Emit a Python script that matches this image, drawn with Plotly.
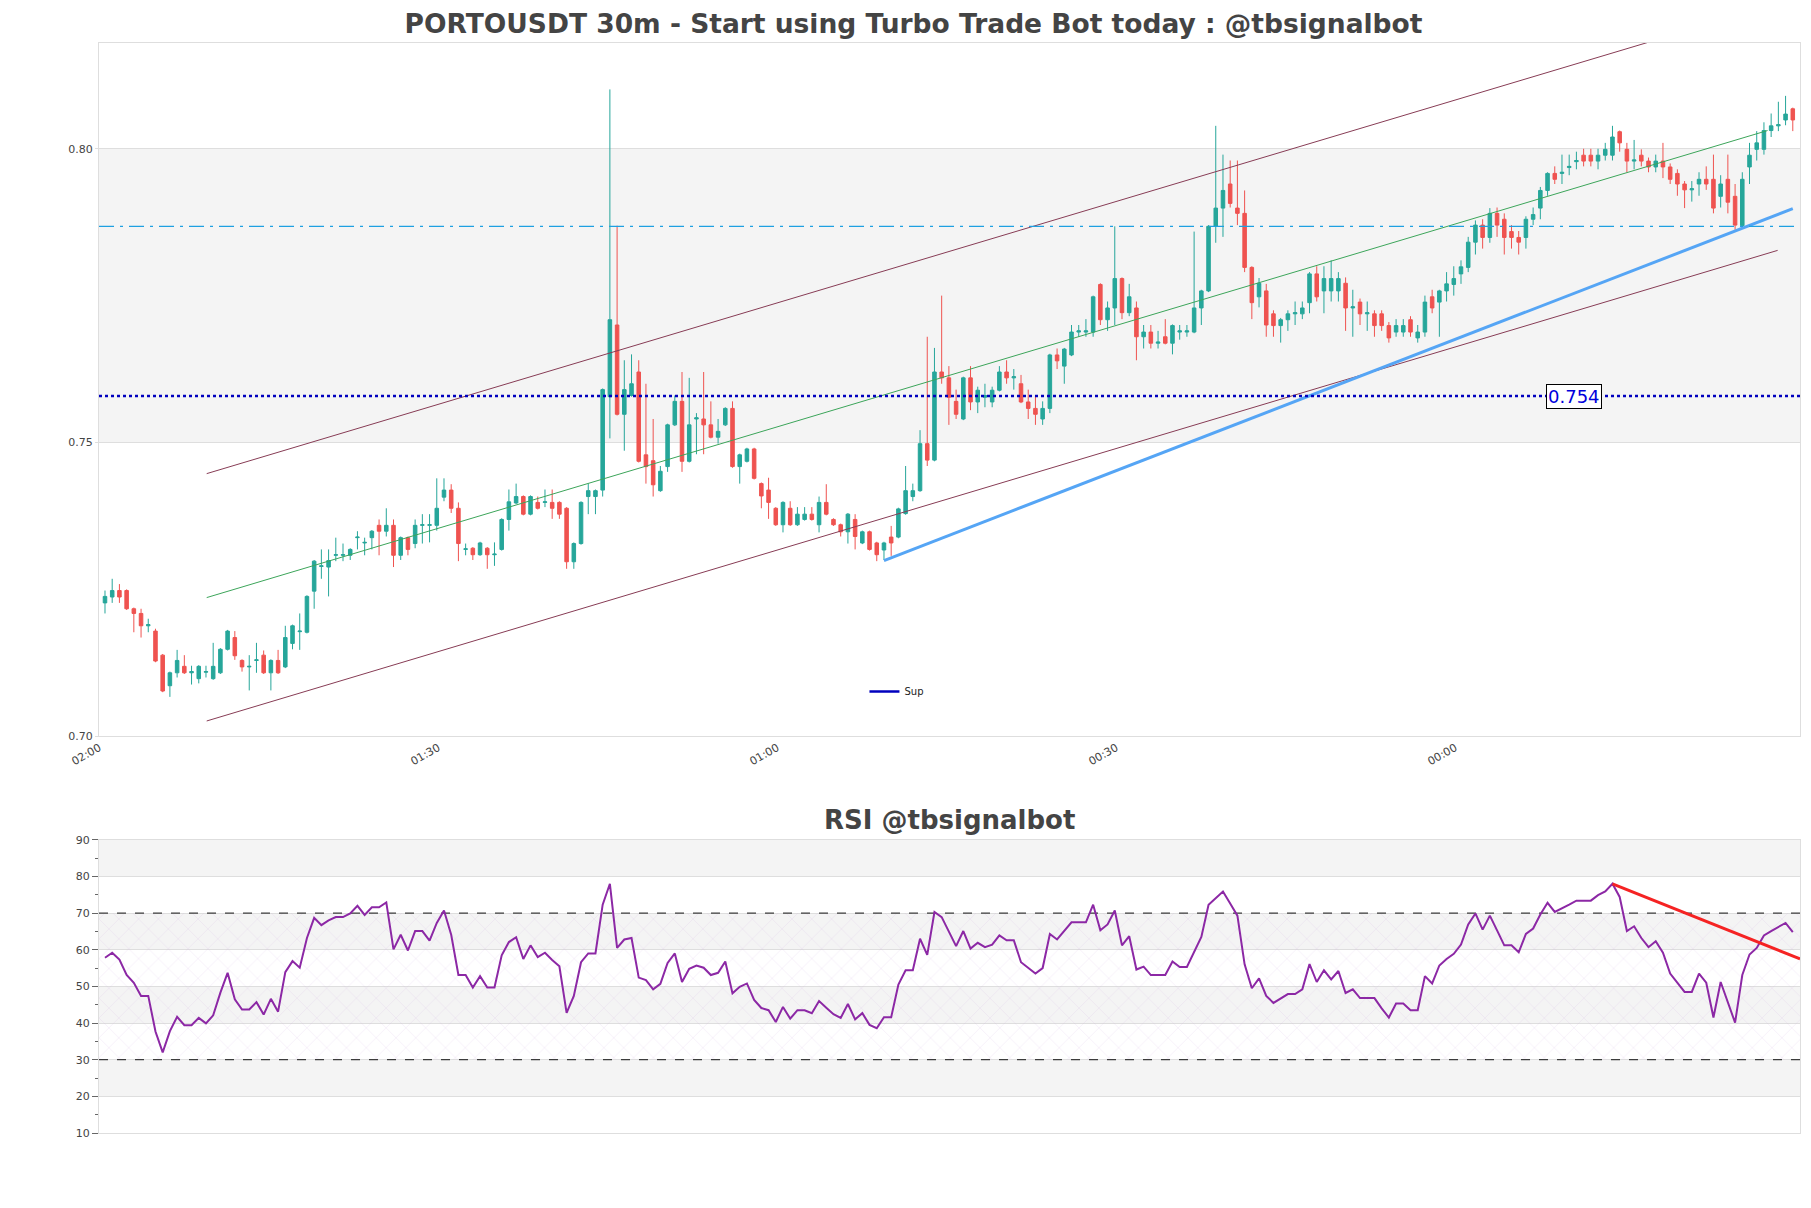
import plotly.graph_objects as go

# ---- data --------------------------------------------------------------------
opens = [
    .7227, .7237, .7248, .7248, .7217, .7209, .7188, .7179, .7138, .7086,
    .7108, .7119, .7108, .7098, .7109, .7098, .7108, .7148, .7168, .7129,
    .7118, .7129, .7138, .7108, .7129, .7118, .7158, .7178, .7177, .7247,
    .7289, .7288, .7308, .7308, .7308, .7338, .7329, .7338, .7359, .7349,
    .7359, .7308, .7338, .7328, .7359, .7359, .7359, .7407, .7419, .7388,
    .7318, .7320, .7309, .7320, .7309, .7318, .7369, .7397, .7408, .7378,
    .7398, .7398, .7398, .7398, .7388, .7297, .7328, .7408, .7408, .7419,
    .7578, .7700, .7548, .7580, .7620, .7479, .7469, .7418, .7459, .7530,
    .7570, .7468, .7540, .7540, .7530, .7509, .7530, .7558, .7459, .7468,
    .7489, .7430, .7419, .7388, .7360, .7388, .7360, .7369, .7378, .7360,
    .7398, .7369, .7360, .7348, .7369, .7329, .7348, .7329, .7317, .7339,
    .7339, .7379, .7408, .7418, .7498, .7470, .7620, .7610, .7570, .7540,
    .7610, .7569, .7577, .7569, .7589, .7620, .7610, .7600, .7569, .7558,
    .7540, .7558, .7649, .7630, .7649, .7688, .7688, .7688, .7769, .7709,
    .7729, .7779, .7721, .7729, .7680, .7688, .7669, .7680, .7669, .7688,
    .7688, .7688, .7729, .7758, .7868, .7899, .7940, .7899, .7890, .7798,
    .7748, .7758, .7719, .7699, .7709, .7719, .7719, .7738, .7787, .7758,
    .7758, .7758, .7771, .7729, .7739, .7719, .7719, .7719, .7699, .7688,
    .7688, .7709, .7678, .7688, .7748, .7739, .7758, .7769, .7787, .7798,
    .7841, .7870, .7849, .7890, .7880, .7859, .7849, .7849, .7880, .7899,
    .7929, .7958, .7958, .7968, .7978, .7989, .7989, .7979, .7989, .7989,
    .8029, .7999, .7979, .7989, .7979, .7969, .7979, .7969, .7958, .7940,
    .7930, .7940, .7948, .7948, .7919, .7948, .7919, .7869, .7969, .7999,
    .7999, .8031, .8039, .8049, .8068,
]
highs = [
    .7248, .7268, .7259, .7250, .7219, .7217, .7200, .7183, .7140, .7110,
    .7147, .7138, .7120, .7121, .7120, .7159, .7150, .7181, .7179, .7131,
    .7138, .7159, .7146, .7131, .7147, .7188, .7190, .7209, .7240, .7300,
    .7318, .7318, .7338, .7328, .7320, .7349, .7338, .7351, .7369, .7388,
    .7369, .7340, .7340, .7369, .7378, .7378, .7439, .7439, .7429, .7398,
    .7328, .7322, .7331, .7322, .7330, .7371, .7420, .7430, .7410, .7410,
    .7408, .7420, .7420, .7400, .7390, .7330, .7400, .7430, .7420, .7592,
    .8101, .7869, .7640, .7650, .7640, .7600, .7540, .7460, .7532, .7580,
    .7620, .7610, .7550, .7620, .7570, .7540, .7560, .7570, .7481, .7491,
    .7491, .7432, .7440, .7390, .7400, .7400, .7390, .7390, .7390, .7408,
    .7429, .7371, .7362, .7380, .7378, .7350, .7350, .7331, .7331, .7358,
    .7389, .7460, .7430, .7521, .7680, .7661, .7750, .7630, .7590, .7612,
    .7630, .7595, .7600, .7595, .7630, .7640, .7625, .7615, .7590, .7580,
    .7570, .7651, .7660, .7661, .7700, .7700, .7710, .7750, .7771, .7740,
    .7868, .7781, .7770, .7740, .7700, .7700, .7690, .7710, .7701, .7700,
    .7700, .7859, .7760, .7870, .8039, .7990, .7980, .7980, .7929, .7800,
    .7780, .7770, .7725, .7712, .7725, .7740, .7740, .7790, .7800, .7800,
    .7810, .7790, .7781, .7760, .7745, .7740, .7725, .7725, .7705, .7710,
    .7710, .7715, .7700, .7750, .7760, .7760, .7790, .7800, .7810, .7850,
    .7878, .7880, .7899, .7900, .7890, .7870, .7860, .7885, .7900, .7935,
    .7960, .7970, .7990, .7990, .7995, .8000, .8000, .8000, .8010, .8039,
    .8031, .8010, .8015, .7999, .7985, .7990, .8010, .7975, .7965, .7945,
    .7945, .7960, .7970, .7990, .7955, .7990, .7940, .7960, .8010, .8030,
    .8045, .8060, .8080, .8090, .8070,
]
lows = [
    .7209, .7227, .7227, .7215, .7177, .7168, .7177, .7126, .7075, .7067,
    .7100, .7106, .7088, .7090, .7100, .7096, .7106, .7146, .7130, .7110,
    .7078, .7108, .7106, .7078, .7106, .7116, .7148, .7147, .7175, .7217,
    .7268, .7238, .7298, .7298, .7300, .7318, .7308, .7318, .7308, .7340,
    .7288, .7300, .7308, .7320, .7328, .7330, .7350, .7400, .7380, .7298,
    .7308, .7300, .7307, .7285, .7290, .7316, .7350, .7395, .7376, .7376,
    .7386, .7390, .7370, .7370, .7285, .7285, .7326, .7378, .7378, .7408,
    .7507, .7546, .7486, .7578, .7466, .7430, .7408, .7416, .7450, .7528,
    .7450, .7466, .7480, .7480, .7507, .7498, .7528, .7457, .7430, .7466,
    .7437, .7388, .7370, .7358, .7347, .7358, .7358, .7367, .7367, .7347,
    .7376, .7358, .7340, .7328, .7318, .7327, .7316, .7298, .7300, .7307,
    .7337, .7377, .7400, .7416, .7460, .7468, .7600, .7530, .7540, .7538,
    .7555, .7550, .7560, .7560, .7587, .7600, .7590, .7567, .7540, .7530,
    .7530, .7550, .7625, .7600, .7647, .7680, .7680, .7680, .7700, .7690,
    .7700, .7710, .7715, .7640, .7660, .7660, .7660, .7667, .7650, .7675,
    .7680, .7686, .7700, .7756, .7840, .7850, .7900, .7870, .7790, .7710,
    .7730, .7680, .7680, .7670, .7690, .7700, .7710, .7720, .7740, .7720,
    .7740, .7740, .7690, .7680, .7700, .7690, .7680, .7690, .7670, .7680,
    .7680, .7680, .7670, .7680, .7720, .7680, .7740, .7750, .7770, .7790,
    .7820, .7830, .7840, .7850, .7820, .7830, .7820, .7830, .7870, .7880,
    .7920, .7940, .7940, .7955, .7965, .7970, .7970, .7965, .7980, .7980,
    .7995, .7960, .7965, .7970, .7960, .7960, .7950, .7940, .7920, .7899,
    .7910, .7920, .7930, .7890, .7900, .7890, .7862, .7867, .7940, .7980,
    .7990, .8020, .8030, .8040, .8030,
]
closes = [
    .7238, .7248, .7237, .7217, .7209, .7188, .7190, .7128, .7077, .7108,
    .7129, .7108, .7110, .7119, .7110, .7119, .7148, .7179, .7137, .7118,
    .7119, .7130, .7108, .7129, .7108, .7168, .7188, .7179, .7238, .7298,
    .7290, .7299, .7309, .7309, .7318, .7339, .7330, .7349, .7349, .7359,
    .7308, .7338, .7318, .7359, .7360, .7360, .7388, .7419, .7388, .7328,
    .7319, .7309, .7329, .7309, .7310, .7369, .7399, .7408, .7378, .7408,
    .7388, .7399, .7388, .7378, .7297, .7328, .7398, .7418, .7418, .7590,
    .7709, .7548, .7590, .7600, .7468, .7459, .7428, .7451, .7530, .7570,
    .7468, .7530, .7542, .7530, .7509, .7519, .7558, .7459, .7479, .7489,
    .7439, .7409, .7398, .7360, .7398, .7360, .7378, .7378, .7369, .7398,
    .7378, .7360, .7348, .7378, .7340, .7348, .7318, .7309, .7329, .7329,
    .7387, .7418, .7418, .7498, .7470, .7620, .7610, .7577, .7548, .7610,
    .7569, .7589, .7580, .7589, .7620, .7610, .7612, .7569, .7558, .7548,
    .7558, .7649, .7639, .7659, .7688, .7690, .7690, .7748, .7709, .7729,
    .7779, .7721, .7748, .7680, .7688, .7669, .7671, .7669, .7699, .7690,
    .7690, .7729, .7758, .7868, .7899, .7929, .7907, .7890, .7798, .7738,
    .7771, .7700, .7699, .7709, .7719, .7721, .7729, .7787, .7748, .7779,
    .7779, .7779, .7729, .7731, .7719, .7721, .7699, .7699, .7678, .7699,
    .7699, .7688, .7688, .7739, .7729, .7758, .7770, .7779, .7799, .7841,
    .7870, .7849, .7890, .7870, .7849, .7849, .7841, .7880, .7888, .7929,
    .7958, .7948, .7960, .7970, .7980, .7979, .7979, .7989, .7999, .8020,
    .8010, .7979, .7981, .7979, .7969, .7979, .7969, .7948, .7940, .7930,
    .7932, .7948, .7940, .7899, .7940, .7909, .7870, .7948, .7989, .8010,
    .8031, .8039, .8041, .8059, .8049,
]

rsi = [
    57.8, 59.2, 57.3, 53.1, 51.0, 47.4, 47.4, 37.7, 32.0, 37.8,
    41.7, 39.4, 39.4, 41.4, 39.9, 42.1, 48.3, 53.7, 46.5, 43.7,
    43.7, 45.7, 42.3, 46.6, 43.1, 53.9, 56.9, 55.1, 63.2, 68.7,
    66.7, 68.0, 68.9, 68.9, 69.9, 72.0, 69.5, 71.6, 71.6, 72.9,
    60.1, 64.1, 59.8, 65.1, 65.1, 62.5, 67.3, 70.7, 64.1, 53.1,
    53.1, 49.7, 52.8, 49.7, 49.7, 58.5, 62.1, 63.4, 57.5, 61.2,
    58.0, 59.2, 57.2, 55.5, 42.8, 47.4, 56.6, 59.0, 59.0, 72.3,
    78.0, 60.5, 62.8, 63.2, 52.4, 51.7, 49.2, 50.7,
    56.4, 59.0, 51.2, 54.8, 55.7, 55.1, 53.1, 53.7, 56.8, 48.1,
    49.9, 50.8, 46.3, 44.1, 43.5, 40.3, 44.4, 41.2, 43.5, 43.5,
    42.7, 46.0, 44.2, 42.4, 41.4, 45.2, 41.0, 42.7, 39.5, 38.6,
    41.6, 41.6, 50.5, 54.4, 54.4, 63.0, 58.6, 70.3, 68.9, 65.1,
    61.0, 65.1, 60.3, 61.9, 60.7, 61.4, 63.9, 62.6, 62.6, 56.6,
    55.1, 53.5, 55.0, 64.3, 62.8, 65.2, 67.5, 67.5, 67.5, 72.3,
    65.3, 66.9, 70.7, 61.2, 63.7, 54.6, 55.4, 53.1, 53.1, 53.1,
    56.8, 55.3, 55.3, 59.6, 63.5, 72.3, 74.2, 75.9, 72.6, 69.3,
    56.0, 49.5, 52.2, 47.4, 45.5, 46.7, 47.9, 47.9, 49.2, 56.1,
    51.2, 54.4, 51.9, 54.2, 48.2, 49.2, 46.8, 46.8, 46.8, 44.0,
    41.5, 45.3, 45.3, 43.5, 43.5, 52.8, 50.8, 55.7, 57.5, 58.9,
    61.4, 66.9, 69.9, 65.5, 69.3, 65.3, 61.2, 61.2, 59.3, 64.3,
    65.8, 69.6, 72.8, 70.3, 71.2, 72.3, 73.4, 73.4, 73.4, 74.9,
    75.9, 78.0, 74.4, 65.1, 66.4, 63.2, 60.7, 62.3, 59.2, 53.5,
    51.0, 48.5, 48.5, 53.5, 51.0, 41.5, 51.2, 45.6, 40.1, 53.1,
    58.7, 60.5, 63.9, 65.1, 66.1, 67.3, 64.8,
]

# trend lines: ([start index, end index], [start value, end value])
channel_upper = ([14.1, 230.5], [0.7447, 0.8242])
channel_mid = ([14.1, 230.5], [0.7236, 0.8031])
channel_lower = ([14.1, 231.9], [0.7026, 0.7827])
support_line = ([108.0, 234.0], [0.7299, 0.7898])
rsi_trend = ([209, 235], [78.0, 57.5])

sup_level = 0.7579
sup_label = "0.754"
resist_level = 0.7868

tick_pos = [-0.8, 46.2, 93.2, 140.2, 187.2]
tick_text = ["02:00", "01:30", "01:00", "00:30", "00:00"]
x_range = [-0.83, 235.0]

FONT = "DejaVu Sans"
GREY_BAND = "rgb(244,244,244)"
EDGE = "rgb(222,222,222)"

xs = list(range(len(closes)))
rsi_x = list(range(len(rsi)))

fig = go.Figure()

fig.add_trace(go.Candlestick(
    x=xs, open=opens, high=highs, low=lows, close=closes,
    increasing=dict(line=dict(color="#26a69a", width=1), fillcolor="#26a69a"),
    decreasing=dict(line=dict(color="#ef5350", width=1), fillcolor="#ef5350"),
    whiskerwidth=0, showlegend=False, xaxis="x", yaxis="y",
))

for (lx, ly), col, w in [
    (channel_upper, "rgb(135,60,85)", 1),
    (channel_lower, "rgb(135,60,85)", 1),
    (channel_mid, "rgb(60,165,90)", 1),
    (support_line, "rgb(85,165,245)", 3),
]:
    fig.add_trace(go.Scatter(x=lx, y=ly, mode="lines", line=dict(color=col, width=w),
                             showlegend=False, hoverinfo="skip", xaxis="x", yaxis="y"))

fig.add_trace(go.Scatter(x=x_range, y=[resist_level] * 2, mode="lines",
                         line=dict(color="rgb(30,160,225)", width=1.3, dash="longdashdot"),
                         showlegend=False, xaxis="x", yaxis="y"))
fig.add_trace(go.Scatter(x=x_range, y=[sup_level] * 2, mode="lines",
                         line=dict(color="rgb(0,0,190)", width=2.5, dash="dot"),
                         showlegend=False, xaxis="x", yaxis="y"))
# legend entry drawn as a solid short line, like the reference
fig.add_trace(go.Scatter(x=[None], y=[None], mode="lines", name="Sup",
                         line=dict(color="rgb(0,0,190)", width=2.5),
                         xaxis="x", yaxis="y"))

# RSI panel
fig.add_trace(go.Scatter(x=x_range, y=[30, 30], mode="lines", line=dict(width=0),
                         showlegend=False, hoverinfo="skip", xaxis="x2", yaxis="y2"))
fig.add_trace(go.Scatter(x=x_range, y=[70, 70], mode="lines", line=dict(width=0),
                         fill="tonexty", fillcolor="rgba(248,240,250,0.4)",
                         fillpattern=dict(shape="x", fgcolor="rgba(200,160,220,0.7)",
                                          bgcolor="rgba(0,0,0,0)", size=14, solidity=0.06),
                         showlegend=False, hoverinfo="skip", xaxis="x2", yaxis="y2"))
for lvl in (70, 30):
    fig.add_trace(go.Scatter(x=x_range, y=[lvl, lvl], mode="lines",
                             line=dict(color="rgb(60,60,60)", width=1.2, dash="dash"),
                             showlegend=False, xaxis="x2", yaxis="y2"))
fig.add_trace(go.Scatter(x=rsi_x, y=rsi, mode="lines",
                         line=dict(color="rgb(140,40,165)", width=2),
                         showlegend=False, xaxis="x2", yaxis="y2"))
fig.add_trace(go.Scatter(x=rsi_trend[0], y=rsi_trend[1], mode="lines",
                         line=dict(color="rgb(245,35,35)", width=3),
                         showlegend=False, xaxis="x2", yaxis="y2"))

shapes = [
    dict(type="rect", xref="x", yref="y", x0=x_range[0], x1=x_range[1], y0=0.75, y1=0.80,
         fillcolor=GREY_BAND, line=dict(width=0), layer="below"),
]
for lo in (20, 40, 60, 80):
    shapes.append(dict(type="rect", xref="x2", yref="y2", x0=x_range[0], x1=x_range[1],
                       y0=lo, y1=lo + 10, fillcolor=GREY_BAND, line=dict(width=0), layer="below"))

axis_common = dict(showline=True, linecolor=EDGE, mirror=True, zeroline=False)

fig.update_layout(
    width=1811, height=1208,
    paper_bgcolor="white", plot_bgcolor="white",
    margin=dict(l=91, r=19, t=35, b=83),
    font=dict(family=FONT, color="#444"),
    title=dict(text="<b>PORTOUSDT 30m - Start using Turbo Trade Bot today : @tbsignalbot</b>",
               x=0.5, xanchor="center", y=0.987, yanchor="middle",
               font=dict(family=FONT, size=26.5, color="#444")),
    xaxis=dict(domain=[0, 1], range=x_range, anchor="y", tickvals=tick_pos, ticktext=tick_text,
               tickangle=-30, showgrid=False, rangeslider=dict(visible=False),
               tickfont=dict(family=FONT, size=11, color="#444"), **axis_common),
    yaxis=dict(domain=[0.364, 1], range=[0.70, 0.818], tickvals=[0.70, 0.75, 0.80],
               tickformat=".2f", showgrid=True, gridcolor=EDGE, ticks="outside",
               ticklen=3, tickcolor=EDGE, tickfont=dict(family=FONT, size=11, color="#444"),
               **axis_common),
    xaxis2=dict(domain=[0, 1], range=x_range, anchor="y2", showticklabels=False,
                showgrid=False, **axis_common),
    yaxis2=dict(domain=[0, 0.269], range=[10, 90], tickvals=list(range(10, 91, 10)),
                showgrid=True, gridcolor=EDGE, ticks="outside", ticklen=6,
                tickcolor="#666", tickfont=dict(family=FONT, size=11, color="#444"),
                minor=dict(ticks="outside", ticklen=3, dtick=5, tickcolor="#666"),
                **axis_common),
    shapes=shapes,
    legend=dict(x=0.45, y=0.405, xanchor="left", yanchor="middle", bgcolor="rgba(0,0,0,0)",
                font=dict(family=FONT, size=10, color="#222")),
    annotations=[
        dict(text="<b>RSI @tbsignalbot</b>", xref="paper", yref="paper", x=0.5, y=0.272,
             showarrow=False, font=dict(family=FONT, size=26, color="#444")),
        dict(text=sup_label, xref="x", yref="y", x=203.7, y=sup_level, showarrow=False,
             font=dict(family=FONT, size=18, color="rgb(0,0,220)"),
             bgcolor="white", bordercolor="black", borderwidth=1, borderpad=1),
    ],
)

fig.write_html("out.html")
